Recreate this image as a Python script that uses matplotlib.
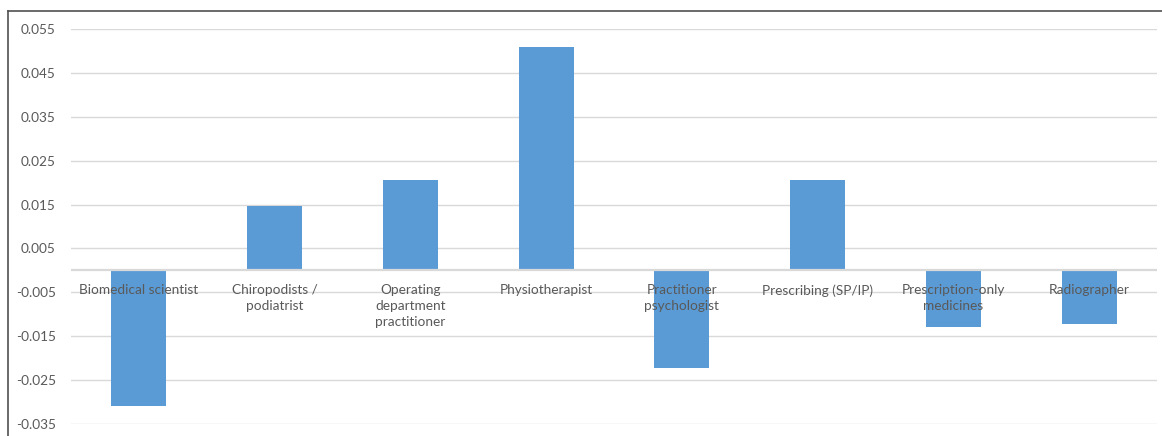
import numpy as np
import matplotlib.pyplot as plt
from matplotlib.lines import Line2D

# Data
categories = ["Biomedical scientist", "Chiropodists /\npodiatrist",
              "Operating\ndepartment\npractitioner", "Physiotherapist",
              "Practitioner\npsychologist", "Prescribing (SP/IP)",
              "Prescription-only\nmedicines", "Radiographer"]
values = [-0.0308, 0.0146, 0.0207, 0.0510, -0.0223, 0.0207, -0.0129, -0.0122]
yticks = [-0.035, -0.025, -0.015, -0.005, 0.005, 0.015, 0.025, 0.035, 0.045, 0.055]

plt.rcParams['font.family'] = ['Lato', 'DejaVu Sans']

fig = plt.figure(figsize=(11.62, 4.36), dpi=100)
ax = fig.add_axes([71 / 1162, 1 - 424 / 436, (1157 - 71) / 1162, (424 - 29) / 436])

x = np.arange(len(categories))
ax.bar(x, values, width=0.405, color='#5b9bd5', zorder=2)

ax.set_xlim(-0.5, len(categories) - 0.5)
ax.set_ylim(-0.035, 0.055)
ax.set_yticks(yticks)
ax.set_yticklabels([f"{t:.3f}" for t in yticks], fontsize=9.8, color='#595959')
ax.tick_params(axis='y', length=0, pad=11)
ax.set_xticks([])
ax.grid(axis='y', color='#d9d9d9', linewidth=1, zorder=0)
ax.axhline(0, color='#d9d9d9', linewidth=1.6, zorder=3)
for s in ax.spines.values():
    s.set_visible(False)

# category labels sit just under the zero line, over the bars
for xi, lab in zip(x, categories):
    ax.annotate(lab, (xi, 0), xytext=(0, -10), textcoords='offset points',
                ha='center', va='top', fontsize=9.8, color='#595959',
                linespacing=1.4, zorder=4)

# chart area border (left and top visible)
fig.add_artist(Line2D([8 / 1162, 8 / 1162], [0, 1 - 11 / 436], color='#505050', lw=1.2))
fig.add_artist(Line2D([8 / 1162, 1], [1 - 11 / 436, 1 - 11 / 436], color='#505050', lw=1.2))

fig.savefig('out.png', dpi=100)
